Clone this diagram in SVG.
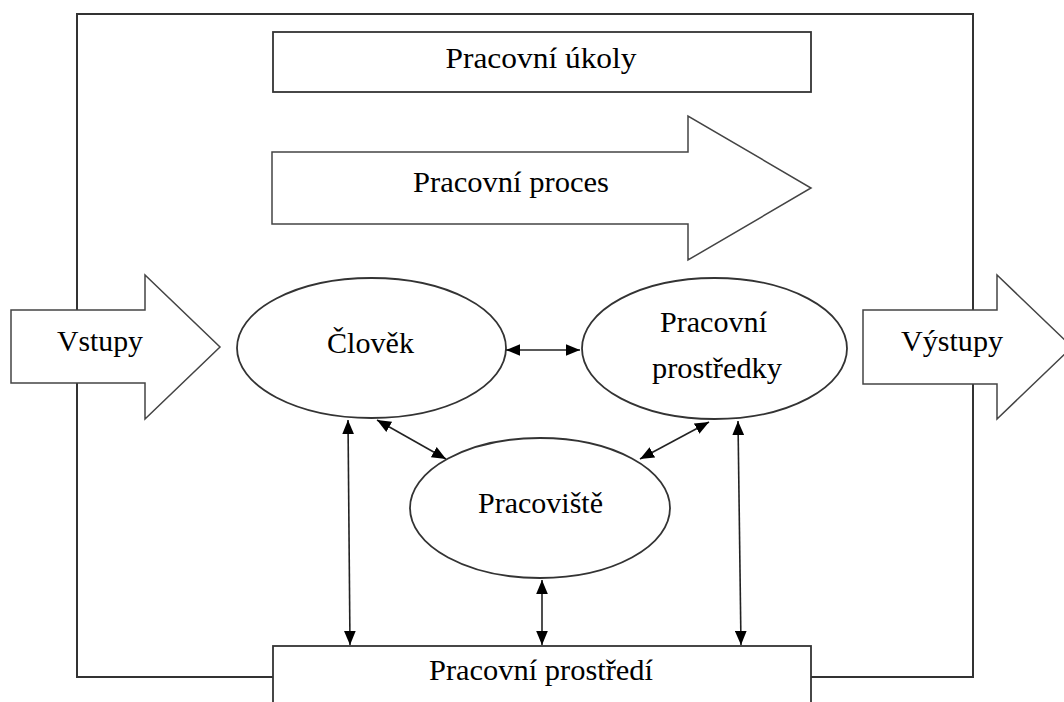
<svg xmlns="http://www.w3.org/2000/svg" width="1064" height="702" viewBox="0 0 1064 702">
<style>
.shape{fill:#fff;stroke:#333;stroke-width:1.8}
.bigarrow{fill:#fff;stroke:#444;stroke-width:1.5}
.lbl{font-family:"Liberation Serif","Times New Roman",serif;font-size:29px;fill:#000;text-anchor:middle}
.con{stroke:#222;stroke-width:1.6;fill:none;marker-start:url(#head);marker-end:url(#head)}
</style>
<defs>
<marker id="head" viewBox="0 0 12 10" refX="12" refY="5" markerWidth="14" markerHeight="12" markerUnits="userSpaceOnUse" orient="auto-start-reverse">
<path d="M0,0 L12,5 L0,10 Z" fill="#000"/>
</marker>
</defs>
<rect width="1064" height="702" fill="#fff"/>
<g id="frame"><rect x="77" y="14" width="896" height="663" fill="none" stroke="#333" stroke-width="2"/></g>
<g id="ukoly"><rect class="shape" x="273" y="32" width="538" height="60"/><text class="lbl" x="541" y="68" textLength="191" lengthAdjust="spacingAndGlyphs">Pracovní úkoly</text></g>
<g id="proces"><polygon class="bigarrow" points="272,152 688,152 688,116 811,188 688,260 688,224 272,224"/><text class="lbl" x="511" y="192" textLength="196" lengthAdjust="spacingAndGlyphs">Pracovní proces</text></g>
<g id="vstupy"><polygon class="bigarrow" points="11,310 145,310 145,275 220,347 145,419 145,383 11,383"/><text class="lbl" x="100" y="351" textLength="86" lengthAdjust="spacingAndGlyphs">Vstupy</text></g>
<g id="vystupy"><polygon class="bigarrow" points="863,310 997,310 997,275 1072,347 997,419 997,384 863,384"/><text class="lbl" x="952" y="351" textLength="102" lengthAdjust="spacingAndGlyphs">Výstupy</text></g>
<g id="clovek"><ellipse class="shape" cx="371.5" cy="348" rx="134.5" ry="70"/><text class="lbl" x="370.5" y="353" textLength="87" lengthAdjust="spacingAndGlyphs">Člověk</text></g>
<g id="prostredky"><ellipse class="shape" cx="714.5" cy="348.5" rx="132.5" ry="70.5"/><text class="lbl" x="713.5" y="332" textLength="107" lengthAdjust="spacingAndGlyphs">Pracovní</text><text class="lbl" x="717" y="378" textLength="130" lengthAdjust="spacingAndGlyphs">prostředky</text></g>
<g id="pracoviste"><ellipse class="shape" cx="540" cy="508" rx="130" ry="70"/><text class="lbl" x="540.5" y="513" textLength="125" lengthAdjust="spacingAndGlyphs">Pracoviště</text></g>
<g id="prostredi"><rect class="shape" x="273" y="646" width="538" height="70"/><text class="lbl" x="541" y="680" textLength="224" lengthAdjust="spacingAndGlyphs">Pracovní prostředí</text></g>
<g id="connectors">
<line class="con" x1="506" y1="350" x2="580" y2="350"/>
<line class="con" x1="348" y1="420" x2="350" y2="645"/>
<line class="con" x1="377" y1="420" x2="446" y2="459"/>
<line class="con" x1="709" y1="422" x2="640" y2="459"/>
<line class="con" x1="542" y1="580" x2="542" y2="645"/>
<line class="con" x1="738" y1="421" x2="741" y2="645"/>
</g>
</svg>
